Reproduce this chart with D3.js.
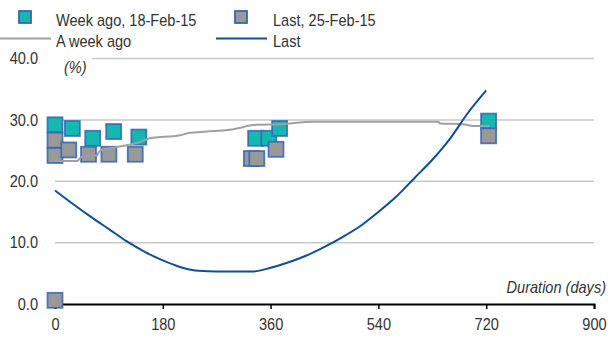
<!DOCTYPE html>
<html>
<head>
<meta charset="utf-8">
<script src="https://cdn.jsdelivr.net/npm/d3@7"></script>
<style>
  body { margin: 0; background: #fff; }
  svg { display: block; }
  text { font-family: "Liberation Sans", Arial, sans-serif; fill: #333; }
</style>
</head>
<body>
<div id="chart"></div>
<script>
// datos
const xTicks = [0, 180, 360, 540, 720, 900];
const yTicks = [0, 10, 20, 30, 40];

// marcadores: hace una semana (18-Feb-15)
const weekAgoDays = [0, 29, 63, 98, 140, 335, 357, 375, 724];
const weekAgoVals = [29.2, 28.6, 27.0, 28.1, 27.2, 27.0, 27.0, 28.6, 29.8];

// marcadores: ultimo (25-Feb-15)
const lastDays = [0, 0, 0, 23, 56, 90, 134, 328, 337, 369, 724];
const lastVals = [0.6, 26.7, 24.2, 25.1, 24.4, 24.4, 24.4, 23.7, 23.7, 25.2, 27.4];

// curva "A week ago"
const weekLineDays = [0, 37, 45, 70, 75, 100, 142, 158, 209, 225, 254, 292, 337, 376, 431, 640, 643, 681, 698, 726];
const weekLineVals = [23.3, 23.3, 24.0, 24.2, 25.0, 25.5, 26.4, 27.0, 27.5, 27.9, 28.1, 28.4, 29.2, 29.3, 29.7, 29.7, 29.4, 29.3, 29.0, 29.0];

// curva "Last"
const lastLineDays = [0, 30, 60, 90, 120, 150, 180, 210, 240, 270, 300, 330, 360, 390, 420, 450, 480, 510, 540, 570, 600, 630, 660, 690, 720];
const lastLineVals = [18.5, 16.3, 14.2, 12.2, 10.2, 8.5, 7.1, 6.0, 5.4, 5.3, 5.3, 5.3, 5.9, 6.8, 7.9, 9.3, 10.9, 12.7, 15.0, 17.5, 20.5, 23.5, 27.0, 31.2, 34.8];

const width = 608, height = 337;
const teal = "#14b8b0", grey = "#999999", edge = "#3566b4", navy = "#0b4f9e", lineGrey = "#a0a0a0";
const narrow = 0.91; // simula fuente condensada

const svg = d3.select("#chart").append("svg")
  .attr("width", width)
  .attr("height", height);

const x = d3.scaleLinear().domain([0, 900]).range([55, 594]);
const y = d3.scaleLinear().domain([0, 40]).range([304, 58.5]);

// texto estrecho en (px, py)
function label(g, px, py, str) {
  return g.append("text")
    .attr("transform", `translate(${px},${py}) scale(${narrow},1)`)
    .attr("font-size", 16)
    .text(str);
}

// lineas de cuadricula
svg.append("g")
  .selectAll("line")
  .data(yTicks.filter(d => d > 0))
  .join("line")
  .attr("x1", d => d === 40 ? 92 : x(0))
  .attr("x2", x(900))
  .attr("y1", d => y(d))
  .attr("y2", d => y(d))
  .attr("stroke", "#c8c9c8")
  .attr("stroke-width", 1.5);

// etiquetas eje y
svg.append("g")
  .selectAll("text")
  .data(yTicks)
  .join("text")
  .attr("transform", d => `translate(38,${y(d)}) scale(${narrow},1)`)
  .attr("dy", "0.36em")
  .attr("text-anchor", "end")
  .attr("font-size", 16)
  .text(d => d.toFixed(1));

label(svg, 64, 73, "(%)").attr("font-style", "italic");

// eje x
const xAxis = svg.append("g")
  .attr("transform", `translate(0,${y(0)})`)
  .call(d3.axisBottom(x).tickValues(xTicks).tickSize(5).tickPadding(10).tickFormat(d3.format("d")));
xAxis.select(".domain").attr("stroke", "#000").attr("stroke-width", 2);
xAxis.selectAll(".tick line").attr("stroke", "#000").attr("stroke-width", 1.5);
xAxis.selectAll(".tick text")
  .attr("font-size", 16).attr("font-family", null).attr("fill", "#333")
  .attr("transform", `scale(${narrow},1)`);

label(svg, 606, 293, "Duration (days)")
  .attr("text-anchor", "end")
  .attr("font-style", "italic");

// marcadores
const sq = 15;
function squares(days, vals, fill) {
  svg.append("g")
    .selectAll("rect")
    .data(days.map((d, i) => [d, vals[i]]))
    .join("rect")
    .attr("x", d => x(d[0]) - sq / 2)
    .attr("y", d => y(d[1]) - sq / 2)
    .attr("width", sq)
    .attr("height", sq)
    .attr("fill", fill)
    .attr("stroke", edge)
    .attr("stroke-opacity", 0.85)
    .attr("stroke-width", 1.8);
}
squares(weekAgoDays, weekAgoVals, teal);
squares(lastDays, lastVals, grey);

// lineas
const line = d3.line().x(d => x(d[0])).y(d => y(d[1])).curve(d3.curveMonotoneX);
svg.append("path")
  .datum(weekLineDays.map((d, i) => [d, weekLineVals[i]]))
  .attr("d", line)
  .attr("fill", "none")
  .attr("stroke", lineGrey)
  .attr("stroke-width", 2);
svg.append("path")
  .datum(lastLineDays.map((d, i) => [d, lastLineVals[i]]))
  .attr("d", line)
  .attr("fill", "none")
  .attr("stroke", navy)
  .attr("stroke-width", 2);

// leyenda
const lg = svg.append("g");
lg.append("rect").attr("x", 19).attr("y", 11).attr("width", 12).attr("height", 12)
  .attr("fill", teal).attr("stroke", edge).attr("stroke-width", 1.8);
label(lg, 56, 26, "Week ago, 18-Feb-15");
lg.append("rect").attr("x", 235).attr("y", 11).attr("width", 12).attr("height", 12)
  .attr("fill", grey).attr("stroke", edge).attr("stroke-width", 1.8);
label(lg, 273, 26, "Last, 25-Feb-15");
lg.append("line").attr("x1", 0).attr("x2", 51).attr("y1", 38.5).attr("y2", 38.5)
  .attr("stroke", lineGrey).attr("stroke-width", 2);
label(lg, 56, 47, "A week ago");
lg.append("line").attr("x1", 216).attr("x2", 267).attr("y1", 38.5).attr("y2", 38.5)
  .attr("stroke", navy).attr("stroke-width", 2);
label(lg, 273, 47, "Last");
</script>
</body>
</html>
